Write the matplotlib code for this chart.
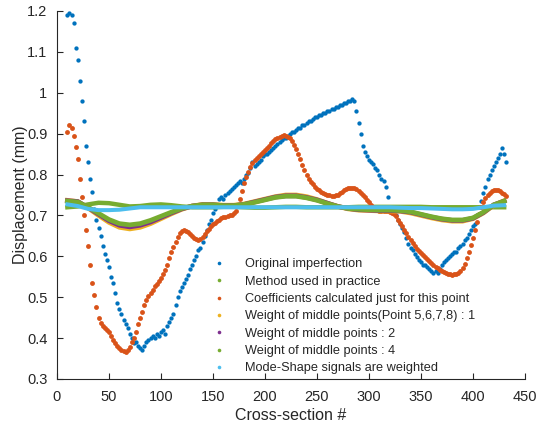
import numpy as np
import matplotlib
matplotlib.use("Agg")
import matplotlib.pyplot as plt
from matplotlib.lines import Line2D

plt.rcParams['font.family'] = ['Liberation Sans', 'DejaVu Sans']

# cross-section positions
x_dense = np.arange(10, 434, 2)
x_coarse = np.arange(10, 440, 10)

original = [
    1.19, 1.195, 1.19, 1.17, 1.11, 1.08, 1.03, 0.98, 0.93, 0.87,
    0.83, 0.79, 0.757, 0.715, 0.69, 0.67, 0.65, 0.625, 0.605, 0.59,
    0.575, 0.55, 0.535, 0.51, 0.485, 0.47, 0.46, 0.445, 0.435, 0.425,
    0.41, 0.40, 0.388, 0.39, 0.38, 0.375, 0.372, 0.38, 0.39, 0.395,
    0.40, 0.405, 0.40, 0.41, 0.405, 0.415, 0.42, 0.41, 0.43, 0.44,
    0.45, 0.46, 0.48, 0.50, 0.515, 0.525, 0.535, 0.545, 0.555, 0.57,
    0.58, 0.59, 0.60, 0.615, 0.62, 0.635, 0.65, 0.665, 0.68, 0.69,
    0.705, 0.715, 0.725, 0.74, 0.745, 0.74, 0.75, 0.755, 0.76, 0.765,
    0.77, 0.775, 0.78, 0.785, 0.78, 0.79, 0.80, 0.805, 0.815, 0.83,
    0.82, 0.825, 0.83, 0.835, 0.845, 0.85, 0.85, 0.855, 0.86, 0.865,
    0.87, 0.875, 0.88, 0.885, 0.89, 0.89, 0.895, 0.90, 0.905, 0.905,
    0.91, 0.915, 0.915, 0.92, 0.92, 0.925, 0.93, 0.93, 0.935, 0.94,
    0.94, 0.945, 0.945, 0.95, 0.95, 0.955, 0.955, 0.96, 0.96, 0.965,
    0.965, 0.97, 0.97, 0.975, 0.975, 0.98, 0.98, 0.985, 0.98, 0.955,
    0.925, 0.90, 0.87, 0.855, 0.845, 0.835, 0.83, 0.825, 0.815, 0.81,
    0.80, 0.79, 0.785, 0.77, 0.745, 0.72, 0.71, 0.705, 0.70, 0.69,
    0.68, 0.67, 0.66, 0.645, 0.63, 0.62, 0.615, 0.605, 0.598, 0.59,
    0.585, 0.58, 0.578, 0.573, 0.57, 0.565, 0.56, 0.565, 0.56, 0.57,
    0.58, 0.585, 0.59, 0.595, 0.60, 0.605, 0.61, 0.61, 0.62, 0.625,
    0.63, 0.64, 0.645, 0.655, 0.665, 0.675, 0.68, 0.70, 0.72, 0.735,
    0.755, 0.77, 0.79, 0.80, 0.81, 0.82, 0.83, 0.84, 0.85, 0.865,
    0.85, 0.83,
]

coeff_point = [
    0.905, 0.92, 0.915, 0.895, 0.868, 0.838, 0.79, 0.745, 0.70, 0.665,
    0.625, 0.58, 0.535, 0.505, 0.475, 0.45, 0.437, 0.43, 0.425, 0.42,
    0.415, 0.405, 0.395, 0.388, 0.38, 0.376, 0.372, 0.368, 0.367, 0.37,
    0.378, 0.39, 0.40, 0.415, 0.435, 0.45, 0.465, 0.48, 0.493, 0.503,
    0.51, 0.518, 0.527, 0.533, 0.54, 0.548, 0.556, 0.567, 0.58, 0.595,
    0.61, 0.623, 0.636, 0.648, 0.657, 0.662, 0.664, 0.663, 0.66, 0.655,
    0.65, 0.645, 0.642, 0.641, 0.642, 0.647, 0.654, 0.661, 0.668, 0.674,
    0.678, 0.682, 0.686, 0.69, 0.693, 0.695, 0.697, 0.698, 0.70, 0.702,
    0.705, 0.71, 0.722, 0.74, 0.76, 0.78, 0.795, 0.807, 0.818, 0.828,
    0.835, 0.84, 0.845, 0.85, 0.855, 0.86, 0.865, 0.87, 0.876, 0.881,
    0.886, 0.89, 0.893, 0.895, 0.896, 0.895, 0.893, 0.889, 0.883, 0.873,
    0.862, 0.85, 0.837, 0.823, 0.81, 0.80, 0.79, 0.782, 0.776, 0.77,
    0.765, 0.762, 0.758, 0.755, 0.752, 0.75, 0.749, 0.748, 0.748, 0.749,
    0.751, 0.754, 0.757, 0.761, 0.764, 0.766, 0.767, 0.767, 0.766, 0.764,
    0.76, 0.756, 0.75, 0.744, 0.738, 0.732, 0.726, 0.721, 0.717, 0.714,
    0.712, 0.711, 0.71, 0.71, 0.71, 0.709, 0.707, 0.703, 0.698, 0.69,
    0.682, 0.673, 0.664, 0.656, 0.647, 0.64, 0.632, 0.625, 0.619, 0.613,
    0.608, 0.603, 0.598, 0.593, 0.588, 0.583, 0.579, 0.575, 0.571, 0.567,
    0.564, 0.561, 0.559, 0.557, 0.556, 0.555, 0.556, 0.557, 0.56, 0.565,
    0.572, 0.582, 0.595, 0.61, 0.627, 0.645, 0.665, 0.685, 0.703, 0.72,
    0.733, 0.743, 0.751, 0.756, 0.76, 0.762, 0.762, 0.761, 0.759, 0.756,
    0.752, 0.747,
]

practice = [
    0.72, 0.722, 0.727, 0.731, 0.73, 0.726, 0.722, 0.723, 0.726, 0.727,
    0.725, 0.722, 0.72, 0.72, 0.72, 0.721, 0.721, 0.72, 0.719, 0.719,
    0.72, 0.721, 0.721, 0.72, 0.72, 0.72, 0.72, 0.72, 0.721, 0.721,
    0.721, 0.721, 0.721, 0.721, 0.721, 0.72, 0.72, 0.72, 0.72, 0.72,
    0.72, 0.72, 0.72,
]
weight1 = [
    0.737, 0.734, 0.718, 0.70, 0.683, 0.671, 0.667, 0.671, 0.68, 0.692,
    0.704, 0.715, 0.723, 0.727, 0.727, 0.725, 0.725, 0.728, 0.734, 0.74,
    0.746, 0.75, 0.75, 0.746, 0.739, 0.73, 0.722, 0.716, 0.713, 0.712,
    0.711, 0.711, 0.71, 0.706, 0.70, 0.694, 0.689, 0.686, 0.686, 0.692,
    0.706, 0.725, 0.736,
]
weight2 = [
    0.736, 0.734, 0.719, 0.703, 0.687, 0.676, 0.672, 0.676, 0.684, 0.695,
    0.706, 0.716, 0.723, 0.726, 0.726, 0.724, 0.724, 0.727, 0.733, 0.739,
    0.745, 0.748, 0.748, 0.744, 0.738, 0.73, 0.722, 0.717, 0.714, 0.713,
    0.712, 0.712, 0.711, 0.708, 0.702, 0.696, 0.691, 0.688, 0.688, 0.693,
    0.707, 0.726, 0.735,
]
weight4 = [
    0.735, 0.733, 0.72, 0.705, 0.69, 0.68, 0.677, 0.68, 0.688, 0.698,
    0.708, 0.717, 0.723, 0.726, 0.726, 0.724, 0.724, 0.727, 0.732, 0.738,
    0.744, 0.747, 0.747, 0.743, 0.737, 0.729, 0.722, 0.717, 0.715, 0.714,
    0.713, 0.713, 0.712, 0.709, 0.703, 0.697, 0.692, 0.689, 0.689, 0.694,
    0.708, 0.726, 0.735,
]
mode_shape = [
    0.727, 0.723, 0.716, 0.713, 0.713, 0.714, 0.717, 0.72, 0.72, 0.72,
    0.72, 0.72, 0.72, 0.72, 0.72, 0.72, 0.72, 0.72, 0.72, 0.72,
    0.72, 0.72, 0.72, 0.72, 0.72, 0.72, 0.72, 0.72, 0.72, 0.72,
    0.72, 0.72, 0.719, 0.718, 0.718, 0.717, 0.716, 0.715, 0.715, 0.716,
    0.72, 0.724, 0.725,
]

labels = [
    "Original imperfection",
    "Method used in practice",
    "Coefficients calculated just for this point",
    "Weight of middle points(Point 5,6,7,8) : 1",
    "Weight of middle points : 2",
    "Weight of middle points : 4",
    "Mode-Shape signals are weighted",
]
c_blue, c_orange, c_yellow = '#0072BD', '#D95319', '#EDB120'
c_purple, c_green, c_cyan = '#7E2F8E', '#77AC30', '#4DBEEE'
colors = [c_blue, c_green, c_orange, c_yellow, c_purple, c_green, c_cyan]
txt = '#262626'

fig = plt.figure(figsize=(5.37, 4.28), dpi=100)
ax = fig.add_axes([0.1061, 0.1145, 0.8715, 0.8598])

ax.plot(x_dense, original, 'o', ms=3.1, mec='none', color=c_blue)
ax.plot(x_coarse, practice, '-', lw=3.2, color=c_green)
ax.plot(x_dense, coeff_point, 'o', ms=3.5, mec='none', color=c_orange)
ax.plot(x_coarse, weight1, '-', lw=3.4, color=c_yellow)
ax.plot(x_coarse, weight2, '-', lw=3.4, color=c_purple)
ax.plot(x_coarse, weight4, '-', lw=3.4, color=c_green)
ax.plot(x_coarse, mode_shape, '-', lw=2.9, color=c_cyan)

handles = [Line2D([], [], ls='none', marker='o', ms=2.6, mec='none', color=c)
           for c in colors]
ax.legend(handles, labels, loc='lower left', bbox_to_anchor=(0.31, -0.012),
          frameon=False, fontsize=9.2, handlelength=1.2, handletextpad=1.45,
          labelspacing=0.42, borderpad=0.2, labelcolor=txt)

ax.set_xlim(0, 450)
ax.set_ylim(0.3, 1.2)
ax.set_xticks(np.arange(0, 451, 50))
ax.set_yticks([0.3, 0.4, 0.5, 0.6, 0.7, 0.8, 0.9, 1.0, 1.1, 1.2])
ax.set_yticklabels(['0.3', '0.4', '0.5', '0.6', '0.7', '0.8', '0.9', '1', '1.1', '1.2'])
ax.spines['top'].set_visible(False)
ax.spines['right'].set_visible(False)
for s in ('left', 'bottom'):
    ax.spines[s].set_color(txt)
    ax.spines[s].set_linewidth(0.8)
ax.tick_params(direction='in', length=4, width=0.8, colors=txt, labelsize=10.5)
ax.tick_params(axis='y', pad=7)
ax.tick_params(axis='x', pad=8)
ax.set_xlabel('Cross-section #', fontsize=11.5, color=txt, labelpad=3)
ax.set_ylabel('Displacement (mm)', fontsize=11.5, color=txt, labelpad=-1)

fig.savefig('out.png', dpi=100)
